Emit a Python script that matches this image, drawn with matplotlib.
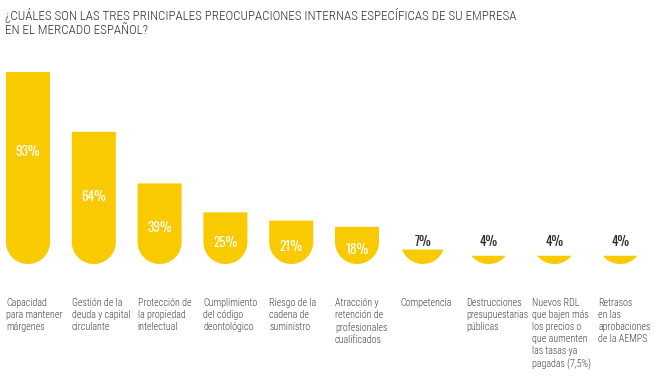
import matplotlib
matplotlib.use('Agg')
import numpy as np
import matplotlib.pyplot as plt
from matplotlib.patches import Polygon

# data
title = "¿CUÁLES SON LAS TRES PRINCIPALES PREOCUPACIONES INTERNAS ESPECÍFICAS DE SU EMPRESA\nEN EL MERCADO ESPAÑOL?"
labels = ["Capacidad\npara mantener\nmárgenes",
          "Gestión de la\ndeuda y capital\ncirculante",
          "Protección de\nla propiedad\nintelectual",
          "Cumplimiento\ndel código\ndeontológico",
          "Riesgo de la\ncadena de\nsuministro",
          "Atracción y\nretención de\nprofesionales\ncualificados",
          "Competencia",
          "Destrucciones\npresupuestarias\npúblicas",
          "Nuevos RDL\nque bajen más\nlos precios o\nque aumenten\nlas tasas ya\npagadas (7,5%)",
          "Retrasos\nen las\naprobaciones\nde la AEMPS"]
values = [93, 64, 39, 25, 21, 18, 7, 4, 4, 4]

yellow = '#F9CA00'
W, H = 660, 383
fig = plt.figure(figsize=(W / 100, H / 100), dpi=100)
ax = fig.add_axes([0, 0, 1, 1])
ax.axis('off')

# axis scale: 65.8 px per category, 2.065 px per percent, zero line at 264 px from top
xpx, ypx = 65.8, 2.065
ax.set_xlim(-28 / xpx, (W - 28) / xpx)
ax.set_ylim(-(H - 264) / ypx, 264 / ypx)

hw = 22 / xpx           # half bar width in category units
r = 22 / ypx            # bottom radius in percent units
t = np.linspace(np.pi, 2 * np.pi, 80)

for i, v in enumerate(values):
    # bar with a round bottom, cut flat at its value
    xs = np.concatenate([i + hw * np.cos(t), [i + hw, i - hw]])
    ys = np.concatenate([r + r * np.sin(t), [v, v]])
    ys = np.minimum(ys, v)
    ax.add_patch(Polygon(np.column_stack([xs, ys]), closed=True, fc=yellow, ec='none'))
    if v >= 10:
        ly = v * (0.36 + 0.0024 * v)
        ax.text(i, ly, f"{v}%", color='white', ha='center', va='center',
                family='Oswald', fontsize=9.5)
    else:
        ax.text(i, 10.7, f"{v}%", color='#2b2b2b', ha='center', va='center',
                family='Oswald', fontsize=9.5)
    ax.text(i - hw, -34 / ypx, labels[i], color='#3f3f3f', ha='left', va='top',
            family='Roboto Condensed', fontweight='light', fontsize=7.2,
            linespacing=1.25)

fig.text(5 / W, 1 - 8 / H, title, color='#2e2e2e', ha='left', va='top',
         family='Roboto Condensed', fontweight='light', fontsize=9.4,
         linespacing=1.1)

fig.savefig('out.png', dpi=100)
